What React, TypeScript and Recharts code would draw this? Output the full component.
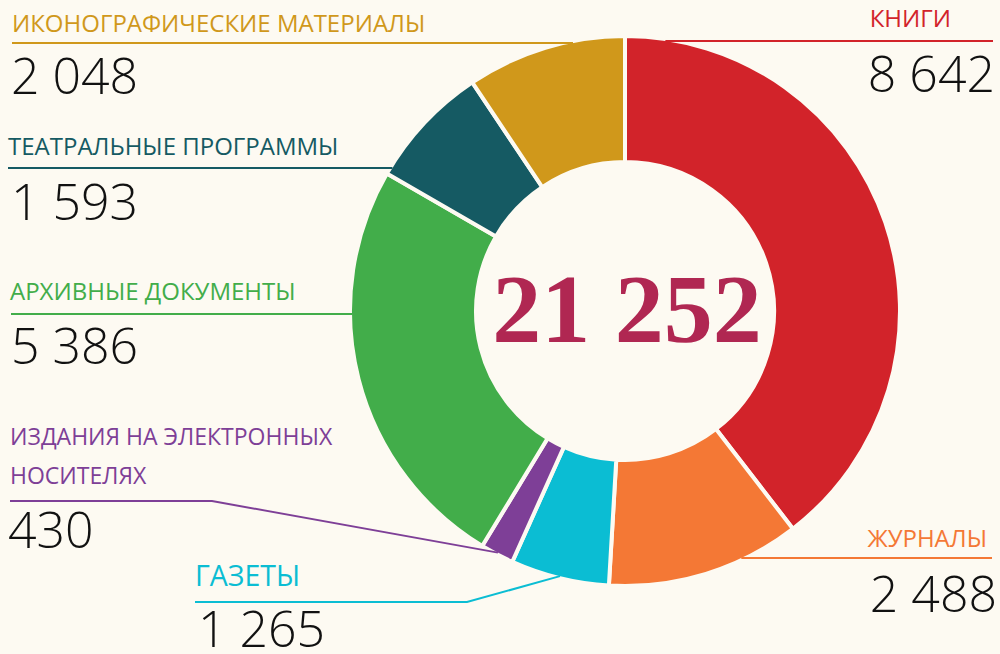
import React from 'react';
import { PieChart, Pie, Cell } from 'recharts';

const CATEGORIES = [
  'КНИГИ',
  'ЖУРНАЛЫ',
  'ГАЗЕТЫ',
  'ИЗДАНИЯ НА ЭЛЕКТРОННЫХ\nНОСИТЕЛЯХ',
  'АРХИВНЫЕ ДОКУМЕНТЫ',
  'ТЕАТРАЛЬНЫЕ ПРОГРАММЫ',
  'ИКОНОГРАФИЧЕСКИЕ МАТЕРИАЛЫ',
];
const VALUES = [8642, 2488, 1265, 430, 5386, 1593, 2048];
const TOTAL_LABEL = '21 252';
const COLORS = ['#D2232A', '#F47835', '#0BBDD3', '#7E3F97', '#42AD4A', '#155A63', '#D0981B'];

const BG = '#FDFAF2';
const LABEL_FONT = '"Open Sans", "Noto Sans", sans-serif';
const NUM_FONT = '"Open Sans", "Noto Sans", sans-serif';

// layout only (positions of labels / leader lines)
const LAYOUT = [
  { anchor: 'end', textX: 951, textY: 27, fs: 24, lineY: 41, lineX: 993, mode: 'h', side: 'right', numX: 995, numY: 92 },
  { anchor: 'end', textX: 987, textY: 547, fs: 24, lineY: 558, lineX: 992, mode: 'h', side: 'right', numX: 997, numY: 612 },
  { anchor: 'start', textX: 195, textY: 586, fs: 28.5, lineY: 602, lineX: 195, elbowX: 467, mode: 'e', side: 'left', numX: 198, numY: 647 },
  { anchor: 'start', textX: 10, textY: 445, fs: 23, lineY: 501, lineX: 10, elbowX: 212, mode: 'e', side: 'left', numX: 8, numY: 548 },
  { anchor: 'start', textX: 10, textY: 300, fs: 24, lineY: 314, lineX: 11, mode: 'h', side: 'left', numX: 11, numY: 364 },
  { anchor: 'start', textX: 8, textY: 155, fs: 24, lineY: 168, lineX: 8, mode: 'h', side: 'left', numX: 11, numY: 220 },
  { anchor: 'start', textX: 12, textY: 32, fs: 24, lineY: 43, lineX: 12, mode: 'h', side: 'left', numX: 11, numY: 94 },
];

const data = CATEGORIES.map((name, i) => ({ name, value: VALUES[i] }));

const fmt = (v: number) => String(v).replace(/\B(?=(\d{3})+(?!\d))/g, ' ');

const renderLabel = (props: any) => {
  const { cx, cy, midAngle, outerRadius, index } = props;
  const L: any = LAYOUT[index];
  const color = COLORS[index];
  const R = outerRadius - 2;
  let points = '';
  if (L.mode === 'h') {
    const dy = L.lineY - cy;
    const dx = Math.sqrt(Math.max(R * R - dy * dy, 0));
    const ix = L.side === 'right' ? cx + dx : cx - dx;
    points = `${L.lineX},${L.lineY} ${ix},${L.lineY}`;
  } else {
    const rad = Math.PI / 180;
    const px = cx + R * Math.cos(-midAngle * rad);
    const py = cy + R * Math.sin(-midAngle * rad);
    points = `${L.lineX},${L.lineY} ${L.elbowX},${L.lineY} ${px},${py}`;
  }
  const lines = CATEGORIES[index].split('\n');
  return (
    <g key={`lbl-${index}`}>
      <polyline points={points} fill="none" stroke={color} strokeWidth={2} />
      <text x={L.textX} y={L.textY} fill={color} textAnchor={L.anchor} fontFamily={LABEL_FONT} fontSize={L.fs}>
        {lines.map((t: string, k: number) => (
          <tspan key={k} x={L.textX} dy={k === 0 ? 0 : 39}>{t}</tspan>
        ))}
      </text>
      <text x={L.numX} y={L.numY} fill="#111" textAnchor={L.anchor} fontFamily={NUM_FONT} fontSize={50} fontWeight={300}>
        {fmt(VALUES[index])}
      </text>
      {index === 0 && (
        <text x={cx + 2} y={cy + 31} textAnchor="middle" fill="#B02752" fontFamily='"Liberation Serif", "DejaVu Serif", serif' fontWeight={700} fontSize={98}>
          {TOTAL_LABEL}
        </text>
      )}
    </g>
  );
};

export default function App() {
  return (
    <div style={{ position: 'absolute', left: 0, top: 0, width: 1000, height: 654, background: BG }}>
      <PieChart width={1000} height={654} margin={{ top: 0, right: 0, bottom: 0, left: 0 }}>
        <Pie
          data={data}
          dataKey="value"
          nameKey="name"
          cx={625}
          cy={311}
          innerRadius={149}
          outerRadius={275}
          startAngle={90}
          endAngle={-270}
          stroke={BG}
          strokeWidth={4}
          label={renderLabel}
          labelLine={false}
          isAnimationActive={false}
        >
          {data.map((d, i) => (
            <Cell key={d.name} fill={COLORS[i]} />
          ))}
        </Pie>
      </PieChart>
    </div>
  );
}
